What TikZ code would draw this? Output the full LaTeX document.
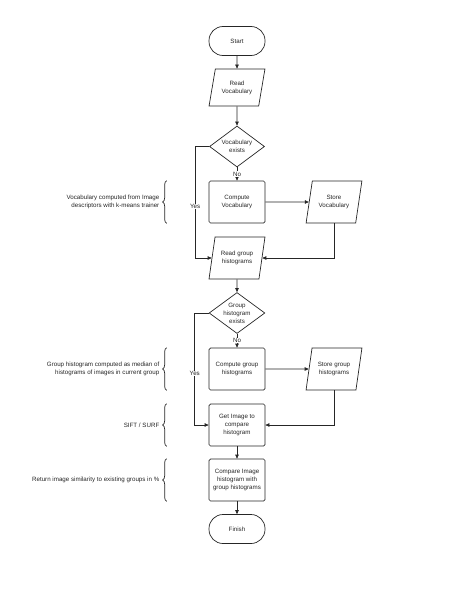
\documentclass[tikz,border=0pt]{standalone}
\usepackage{fontspec}
\setmainfont{Liberation Sans}
\usetikzlibrary{arrows.meta,positioning,shapes.geometric,decorations.pathreplacing}

\begin{document}
\begin{tikzpicture}[->,>={Triangle[length=4pt,width=3.5pt]},line width=0.7pt,color=black!85,node distance=55pt,font=\fontsize{6.2}{8}\selectfont]
  \tikzstyle{terminal}=[rectangle,rounded corners=14pt,draw,minimum width=56pt,minimum height=29pt,align=center]
  \tikzstyle{io}=[trapezium,trapezium left angle=77,trapezium right angle=103,trapezium stretches=true,draw,minimum width=56pt,minimum height=42pt,align=center,inner xsep=1pt]
  \tikzstyle{process}=[rectangle,rounded corners=1.5pt,draw,minimum width=56pt,minimum height=42pt,align=center]
  \tikzstyle{decision}=[diamond,draw,shape aspect=1.4,minimum width=55pt,minimum height=41pt,align=center,inner sep=0pt]
  \tikzstyle{note}=[align=right,inner sep=1pt]
  \tikzstyle{bracket}=[-,decorate,decoration={brace,amplitude=4pt}]
  \tikzstyle{label}=[fill=white,inner sep=0.5pt]

  \useasboundingbox (0,0) rectangle (474pt,-613pt);

  \node[terminal] (start) at (237pt,-41pt) {Start};
  \node[io,minimum height=37pt] (rv) [below of=start,node distance=46.5pt] {Read\\Vocabulary};
  \node[decision] (ve)  [below of=rv,node distance=59pt]      {Vocabulary\\exists};
  \node[process]  (cv)  [below of=ve,node distance=55.5pt]    {Compute\\Vocabulary};
  \node[io]       (sv)  [right of=cv,node distance=97pt]      {Store\\Vocabulary};
  \node[io]       (rg)  [below of=cv,node distance=56pt]      {Read group\\histograms};
  \node[decision] (ge)  [below of=rg]                         {Group\\histogram\\exists};
  \node[process]  (cg)  [below of=ge,node distance=56pt]      {Compute group\\histograms};
  \node[io]       (sg)  [right of=cg,node distance=97pt]      {Store group\\histograms};
  \node[process]  (gi)  [below of=cg,node distance=56pt]      {Get Image to\\compare\\histogram};
  \node[process]  (ci)  [below of=gi]                         {Compare Image\\histogram with\\group histograms};
  \node[terminal] (fin) [below of=ci,node distance=49pt]      {Finish};

  \path
  (start) edge (rv)
  (rv) edge (ve)
  (ve) edge node[label] {No} (cv)
  (cv) edge (sv)
  (rg) edge (ge)
  (ge) edge node[label] {No} (cg)
  (cg) edge (sg)
  (gi) edge (ci)
  (ci) edge (fin);

  % yes branches
  \draw (ve.west) -- ++(-14pt,0) |- node[label,pos=0.27] {Yes} (rg.west);
  \draw (ge.west) -- ++(-14pt,0) |- node[label,pos=0.27] {Yes} (gi.west);
  \draw (sv.south) |- (rg.east);
  \draw (sg.south) |- (gi.east);

  % side notes
  \draw[bracket] ([xshift=-42pt]cv.south west) -- node[note,left=6pt] {Vocabulary computed from Image\\descriptors with k-means trainer} ([xshift=-42pt]cv.north west);
  \draw[bracket] ([xshift=-42pt]cg.south west) -- node[note,left=6pt] {Group histogram computed as median of\\histograms of images in current group} ([xshift=-42pt]cg.north west);
  \draw[bracket] ([xshift=-42pt]gi.south west) -- node[note,left=6pt] {SIFT / SURF} ([xshift=-42pt]gi.north west);
  \draw[bracket] ([xshift=-42pt]ci.south west) -- node[note,left=6pt] {Return image similarity to existing groups in \%} ([xshift=-42pt]ci.north west);
\end{tikzpicture}
\end{document}
